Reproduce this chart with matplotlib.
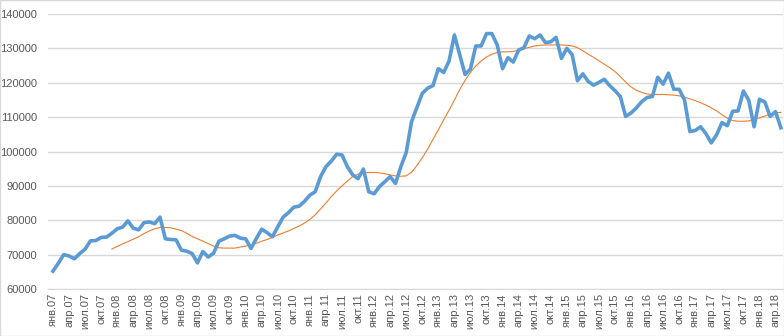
import matplotlib
matplotlib.use("Agg")
import matplotlib.pyplot as plt
from matplotlib.patches import Rectangle

# monthly values, Jan 2007 .. May 2018
price = [
    65200, 67500, 70000, 69600, 68800, 70300, 71600, 74000, 74100, 75000, 75100, 76200,   # 2007
    77500, 78000, 79800, 77700, 77200, 79300, 79500, 79000, 80900, 74600, 74400, 74300,   # 2008
    71300, 71000, 70300, 67600, 70900, 69300, 70400, 73900, 74600, 75400, 75600, 74800,   # 2009
    74600, 71800, 74700, 77400, 76400, 75200, 78100, 80900, 82200, 83800, 84100, 85500,   # 2010
    87300, 88300, 92700, 95600, 97200, 99200, 99000, 95600, 93200, 92100, 94900, 88300,   # 2011
    87700, 89800, 91200, 92700, 90700, 95600, 99700, 108700, 112800, 116900, 118400, 119200,  # 2012
    124100, 123000, 126300, 133900, 128100, 122400, 124000, 130700, 130700, 134300, 134300, 131000,  # 2013
    124100, 127300, 126000, 129500, 130200, 133600, 132800, 133900, 131700, 131900, 133200, 127100,  # 2014
    130000, 128200, 120600, 122600, 120400, 119300, 120100, 121000, 119200, 117700, 116000, 110200,  # 2015
    111200, 112700, 114500, 115700, 116000, 121600, 119600, 122800, 118100, 118100, 115000, 105800,  # 2016
    106100, 107200, 105200, 102500, 104900, 108400, 107500, 111700, 111800, 117600, 114900, 107200,  # 2017
    115200, 114400, 110200, 111600, 106900,                                                          # 2018
]

# 12-month moving average as drawn, Dec 2007 .. May 2018
avg12 = [
    71600,
    72400, 73100, 73800, 74500, 75200, 76100, 76900, 77500, 77900, 77900, 77800, 77400,
    77000, 76200, 75300, 74600, 73900, 73200, 72500, 72000, 71900, 71900, 71900, 72200,
    72500, 72800, 73300, 73900, 74400, 75000, 75700, 76300, 76900, 77600, 78300, 79200,
    80200, 81600, 83300, 85000, 86900, 88500, 90000, 91400, 92700, 93400, 93800, 93900,
    93900, 93800, 93500, 93200, 92900, 92800, 92900, 94000, 95900, 98200, 100700, 103500,
    106300, 109200, 112000, 115000, 118000, 120700, 123000, 124900, 126300, 127500, 128300, 128800,
    129000, 129000, 129100, 129500, 129900, 130300, 130700, 130900, 131000, 131000, 131000, 131000,
    130900, 130700, 130200, 129300, 128300, 127400, 126400, 125400, 124400, 123300, 121800, 120200,
    118800, 117800, 117200, 116700, 116600, 116600, 116600, 116500, 116400, 116200, 115800, 115300,
    114800, 114200, 113500, 112700, 111800, 110700, 109700, 109000, 108800, 108800, 108900, 109300,
    109800, 110300, 110900, 111200, 111400,
]

months = ['янв', 'апр', 'июл', 'окт']
tick_pos = list(range(0, len(price), 3))
tick_labels = [f"{months[(i % 12) // 3]}.{7 + i // 12:02d}" for i in tick_pos]

plt.rcParams['font.family'] = ['Liberation Sans', 'DejaVu Sans']

fig = plt.figure(figsize=(7.84, 3.36), dpi=100)
ax = fig.add_axes([48 / 784, 47 / 336, 735 / 784, 275 / 336])

x = list(range(len(price)))
x_avg = list(range(len(price) - len(avg12), len(price)))

ax.plot(x_avg, avg12, color='#ed7d31', lw=0.8, zorder=3)
ax.plot(x, price, color='#5b9bd5', lw=2.6, zorder=4, solid_joinstyle='round')

ax.set_xlim(-0.93, 136.4)
ax.set_ylim(60000, 140000)
ax.set_yticks(range(60000, 140001, 10000))
ax.set_xticks(tick_pos)
ax.set_xticklabels(tick_labels, rotation=90)

ax.grid(axis='y', color='#d9d9d9', lw=1)
ax.set_axisbelow(True)
for s in ['left', 'right', 'top']:
    ax.spines[s].set_visible(False)
ax.spines['bottom'].set_color('#d9d9d9')
ax.tick_params(axis='both', length=0, labelsize=8, colors='#595959')
ax.tick_params(axis='y', pad=8)
ax.tick_params(axis='x', pad=3)

fig.patches.append(Rectangle((0, 0), 1, 1, transform=fig.transFigure,
                             fill=False, edgecolor='#d9d9d9', lw=1))

fig.savefig('out.png', dpi=100)
